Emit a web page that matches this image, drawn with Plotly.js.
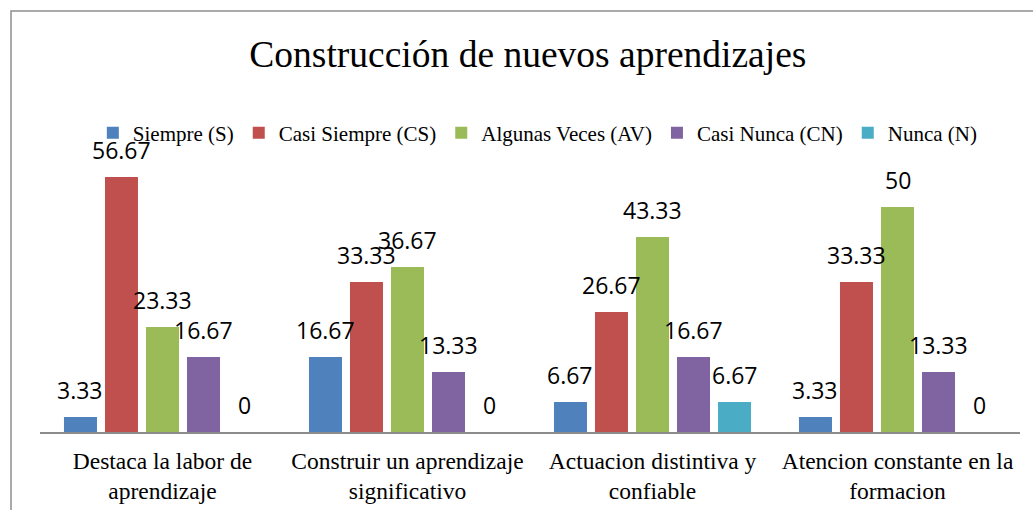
<!DOCTYPE html>
<html>
<head>
<meta charset="utf-8">
<script src="https://cdn.plot.ly/plotly-3.0.1.min.js"></script>
<style>html,body{margin:0;padding:0;background:#fff;}#chart{width:1033px;height:510px;}</style>
</head>
<body>
<div id="chart"></div>
<script>
var categories = [
  "Destaca la labor de<br>aprendizaje",
  "Construir un aprendizaje<br>significativo",
  "Actuacion distintiva y<br>confiable",
  "Atencion constante en la<br>formacion"
];
var seriesNames = ["Siempre (S)", "Casi Siempre (CS)", "Algunas Veces (AV)", "Casi Nunca (CN)", "Nunca (N)"];
var siempre     = [3.33, 16.67, 6.67, 3.33];
var casiSiempre = [56.67, 33.33, 26.67, 33.33];
var algunas     = [23.33, 36.67, 43.33, 50];
var casiNunca   = [16.67, 13.33, 16.67, 13.33];
var nunca       = [0, 0, 6.67, 0];
var colors = ["#4F81BD", "#C0504D", "#9BBB59", "#8064A2", "#4BACC6"];

var seriesValues = [siempre, casiSiempre, algunas, casiNunca, nunca];

var W = 1033, H = 510;
var margin = {l: 40, r: 13, t: 162, b: 78};
var bargap = 0.163, bargroupgap = 0.195;
var plotW = W - margin.l - margin.r;
var catW = plotW / categories.length;
var slot = catW * (1 - bargap) / seriesValues.length;

var traces = seriesValues.map(function (vals, i) {
  return {
    type: "bar",
    name: seriesNames[i],
    x: categories,
    y: vals,
    marker: {color: colors[i]},
    hoverinfo: "x+y+name"
  };
});

var annotations = [];
seriesValues.forEach(function (vals, i) {
  vals.forEach(function (v, j) {
    annotations.push({
      x: categories[j], y: v, xref: "x", yref: "y",
      text: String(v), showarrow: false,
      xanchor: "center", yanchor: "bottom",
      xshift: (i - (seriesValues.length - 1) / 2) * slot,
      yshift: 9,
      font: {family: "Open Sans, sans-serif", size: 23, color: "#000"}
    });
  });
});

var layout = {
  width: W, height: H,
  margin: margin,
  paper_bgcolor: "#fff", plot_bgcolor: "#fff",
  barmode: "group",
  bargap: bargap, bargroupgap: bargroupgap,
  title: {
    text: "Construcción de nuevos aprendizajes",
    font: {family: "Liberation Serif, Times New Roman, serif", size: 37.5, color: "#000"},
    x: 0.511, xref: "container", xanchor: "center",
    y: 1 - 54 / 510, yref: "container", yanchor: "middle"
  },
  showlegend: true,
  legend: {
    orientation: "h", x: 0.508, xanchor: "center",
    y: (432 - 133) / 270, yanchor: "middle",
    font: {family: "Liberation Serif, Times New Roman, serif", size: 21, color: "#000"},
    traceorder: "normal", bgcolor: "rgba(0,0,0,0)"
  },
  xaxis: {
    showline: true, linecolor: "#8c8c8c", linewidth: 1.5,
    ticks: "", showgrid: false, zeroline: false,
    ticklabelstandoff: 7,
    tickfont: {family: "Liberation Serif, Times New Roman, serif", size: 23.5, color: "#000"}
  },
  yaxis: {
    range: [0, 60], showticklabels: false, showgrid: false, zeroline: false, showline: false
  },
  annotations: annotations,
  shapes: [{
    type: "rect", xref: "paper", yref: "paper",
    x0: (11 - margin.l) / plotW, x1: 1.2,
    y0: -0.5, y1: (432 - 11) / 270,
    line: {color: "#8e8e8e", width: 1.5}, fillcolor: "rgba(0,0,0,0)", layer: "below"
  }],
  font: {family: "Liberation Serif, serif"}
};

Plotly.newPlot("chart", traces, layout, {displayModeBar: false, staticPlot: true});
</script>
</body>
</html>
